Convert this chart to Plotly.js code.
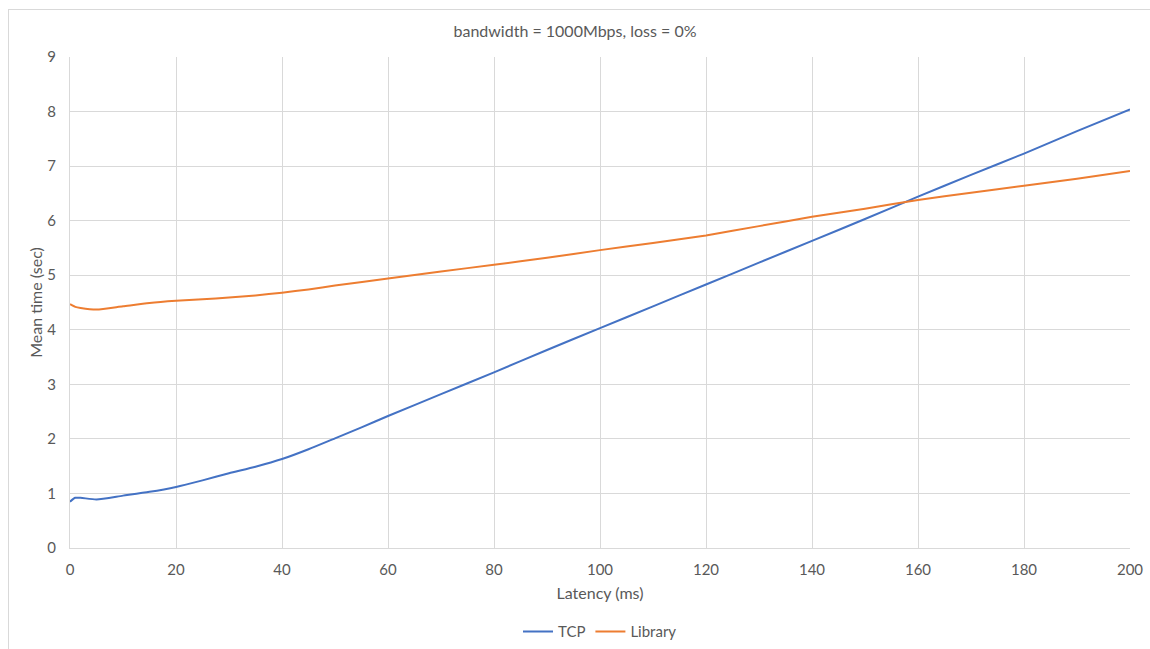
<!DOCTYPE html>
<html>
<head>
<meta charset="utf-8">
<script src="https://cdn.plot.ly/plotly-3.0.1.min.js"></script>
<style>
  html, body { margin: 0; padding: 0; background: #fff; }
  #wrap { position: relative; width: 1150px; height: 649px; overflow: hidden; }
  #chart { width: 1150px; height: 649px; }
  /* thin frame around the chart area */
  #frame {
    position: absolute; left: 8px; top: 9px; width: 1200px; height: 700px;
    border-left: 1px solid #d9d9d9; border-top: 1px solid #d9d9d9;
    pointer-events: none;
  }
</style>
</head>
<body>
<div id="wrap">
  <div id="chart"></div>
  <div id="frame"></div>
</div>
<script>
// Latency in ms and mean transfer time in seconds
const tcpLatency = [0, 1, 2, 5, 10, 15, 20, 25, 30, 35, 40, 45, 50, 55, 60, 70, 80, 90, 100, 110, 120, 130, 140, 150, 160, 170, 180, 190, 200];
const tcpTime    = [0.85, 0.92, 0.92, 0.89, 0.96, 1.03, 1.12, 1.24, 1.37, 1.49, 1.63, 1.81, 2.01, 2.21, 2.42, 2.82, 3.22, 3.63, 4.03, 4.43, 4.83, 5.23, 5.63, 6.03, 6.44, 6.84, 7.23, 7.64, 8.04];

const libLatency = [0, 1, 2, 5, 10, 15, 20, 25, 30, 35, 40, 45, 50, 60, 70, 80, 90, 100, 110, 120, 130, 140, 150, 160, 170, 180, 190, 200];
const libTime    = [4.47, 4.42, 4.40, 4.37, 4.43, 4.49, 4.53, 4.56, 4.59, 4.63, 4.68, 4.74, 4.81, 4.94, 5.07, 5.19, 5.32, 5.46, 5.59, 5.73, 5.90, 6.07, 6.22, 6.38, 6.51, 6.64, 6.77, 6.91];

const seriesNames = ['TCP', 'Library'];
const chartTitle = 'bandwidth = 1000Mbps, loss = 0%';
const xTitle = 'Latency (ms)';
const yTitle = 'Mean time (sec)';

const FONT = 'Lato, "Open Sans", "Noto Sans", sans-serif';
const GREY = '#595959';

const traces = [
  {
    x: tcpLatency, y: tcpTime, name: seriesNames[0],
    type: 'scatter', mode: 'lines',
    line: { color: '#4472C4', width: 2, shape: 'spline', smoothing: 0.6 }
  },
  {
    x: libLatency, y: libTime, name: seriesNames[1],
    type: 'scatter', mode: 'lines',
    line: { color: '#ED7D31', width: 2, shape: 'spline', smoothing: 0.6 }
  }
];

const layout = {
  width: 1150, height: 649,
  paper_bgcolor: '#ffffff', plot_bgcolor: '#ffffff',
  margin: { l: 70, r: 20, t: 57, b: 101, autoexpand: false },
  font: { family: FONT, color: GREY, size: 15 },
  title: {
    text: chartTitle,
    font: { family: FONT, size: 16, color: GREY },
    x: 0.5, xanchor: 'center', y: 0.952, yanchor: 'middle'
  },
  xaxis: {
    range: [0, 200], dtick: 20, tick0: 0,
    automargin: false,
    showgrid: true, gridcolor: '#d9d9d9', gridwidth: 1,
    showline: true, linecolor: '#d9d9d9', linewidth: 1,
    zeroline: false,
    ticks: 'outside', ticklen: 8, tickcolor: 'rgba(0,0,0,0)',
    tickfont: { family: FONT, size: 15, color: GREY },
    title: { text: xTitle, font: { family: FONT, size: 16, color: GREY }, standoff: 10 }
  },
  yaxis: {
    range: [0, 9], dtick: 1, tick0: 0,
    automargin: false,
    showgrid: true, gridcolor: '#d9d9d9', gridwidth: 1,
    showline: true, linecolor: '#d9d9d9', linewidth: 1,
    zeroline: false,
    ticks: 'outside', ticklen: 10, tickcolor: 'rgba(0,0,0,0)',
    tickfont: { family: FONT, size: 15, color: GREY },
    title: { text: yTitle, font: { family: FONT, size: 16, color: GREY }, standoff: 0 }
  },
  showlegend: true,
  legend: {
    orientation: 'h', x: 0.5, xanchor: 'center', y: -0.137, yanchor: 'top',
    font: { family: FONT, size: 15, color: GREY },
    itemwidth: 30, bgcolor: 'rgba(0,0,0,0)'
  }
};

Plotly.newPlot('chart', traces, layout, { displayModeBar: false, staticPlot: true });
</script>
</body>
</html>
